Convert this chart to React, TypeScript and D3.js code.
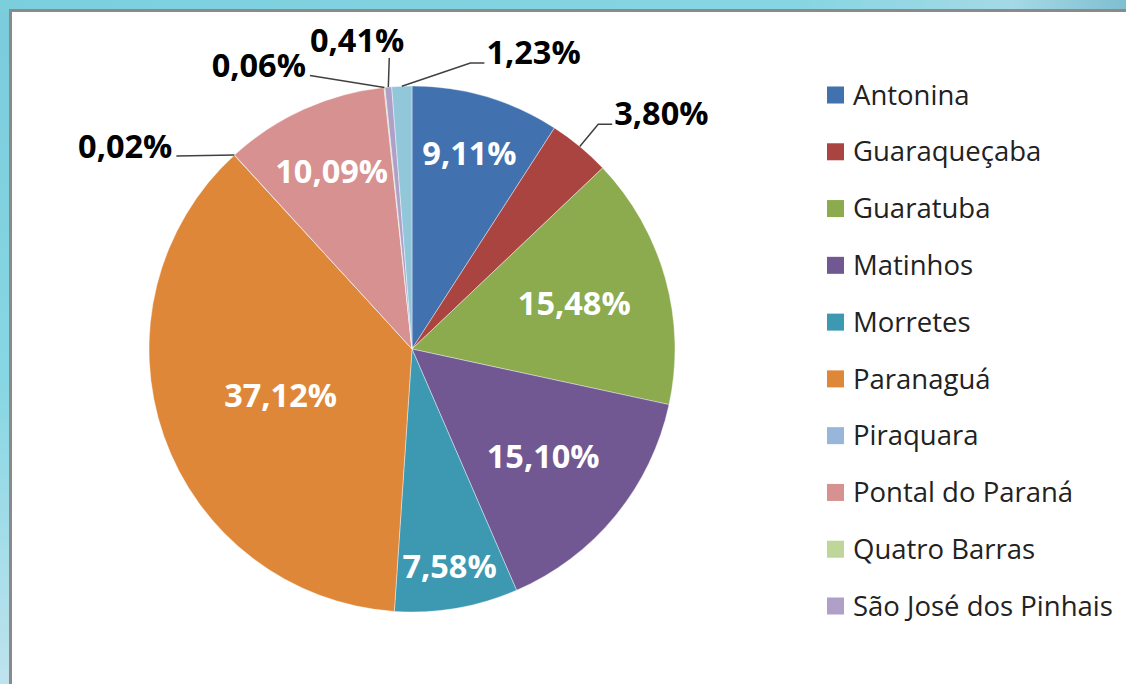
import React from "react";
import * as d3 from "d3";

const categories = [
  "Antonina",
  "Guaraqueçaba",
  "Guaratuba",
  "Matinhos",
  "Morretes",
  "Paranaguá",
  "Piraquara",
  "Pontal do Paraná",
  "Quatro Barras",
  "São José dos Pinhais",
  "Outros",
];
const values = [9.11, 3.8, 15.48, 15.1, 7.58, 37.12, 0.02, 10.09, 0.06, 0.41, 1.23];
const colors = [
  "#4171AE",
  "#AA4441",
  "#8BAB4E",
  "#715892",
  "#3D99B1",
  "#DF8738",
  "#98B5DA",
  "#D69190",
  "#BFD69A",
  "#AFA0C8",
  "#92C7DA",
];
const legendCount = 10;

const W = 1126;
const H = 684;
const cx = 412;
const cy = 349;
const R = 263;
const FONT = "'Open Sans', 'DejaVu Sans', sans-serif";

const fmt = (v: number) => v.toFixed(2).replace(".", ",") + "%";

export default function App() {
  const data = categories.map((c, i) => ({ name: c, value: values[i], color: colors[i] }));
  const pie = d3.pie<any>().value((d) => d.value).sort(null);
  const arcs = pie(data);
  const arcGen = d3.arc<any>().innerRadius(0).outerRadius(R);

  const pt = (a: number, r: number) => [cx + r * Math.sin(a), cy - r * Math.cos(a)];

  // inside labels
  const inside = arcs.filter((a) => a.data.value >= 5).map((a) => {
    const span = a.endAngle - a.startAngle;
    const mid = (a.startAngle + a.endAngle) / 2;
    const ratio = 0.45 + 0.1855 / span;
    const [x, y] = pt(mid, R * ratio);
    return { x, y, text: fmt(a.data.value), key: a.data.name };
  });

  // outside labels with angular relaxation
  const outs = arcs
    .filter((a) => a.data.value < 5)
    .map((a) => {
      const mid = (a.startAngle + a.endAngle) / 2;
      const un = mid < Math.PI / 2 ? mid + 2 * Math.PI : mid;
      return { a, mid, un, adj: un };
    })
    .sort((p, q) => p.adj - q.adj);
  const gap = (16 * Math.PI) / 180;
  for (let it = 0; it < 300; it++) {
    for (let i = 0; i < outs.length - 1; i++) {
      const diff = outs[i + 1].adj - outs[i].adj;
      if (diff < gap) {
        const d = (gap - diff) / 2;
        outs[i].adj -= d;
        outs[i + 1].adj += d;
      }
    }
  }
  const outside = outs.map((o) => {
    const [ex, ey] = pt(o.mid, R);
    let [px, py] = pt(o.adj, R * 1.11);
    const s = Math.sin(o.adj);
    const shifted = Math.abs(o.adj - o.un) > (1 * Math.PI) / 180;
    let path: string;
    let tx: number, ty: number, anchor: string;
    if (Math.abs(s) < 0.15) {
      path = `M${ex},${ey}L${px},${py}`;
      tx = px + 15;
      ty = py - 6;
      anchor = "end";
    } else if (s > 0) {
      path = `M${ex},${ey}L${px},${py}L${px + 14},${py}`;
      tx = px + 16;
      ty = py + 1;
      anchor = "start";
    } else {
      if (!shifted) {
        px = ex - 58;
        py = ey + 1;
      }
      path = `M${ex},${ey}L${px},${py}`;
      tx = px - 4;
      ty = py + 2;
      anchor = "end";
    }
    return { path, tx, ty, anchor, text: fmt(o.a.data.value), key: o.a.data.name };
  });

  const legendItems = data.slice(0, legendCount);
  const ly = d3.scalePoint<string>().domain(legendItems.map((d) => d.name)).range([95, 606]);

  return (
    <svg
      width={W}
      height={H}
      style={{ position: "absolute", left: 0, top: 0, display: "block" }}
    >
      <defs>
        <linearGradient id="bgLeft" x1="0" y1="0" x2="0" y2="1">
          <stop offset="0" stopColor="#7BCCDB" />
          <stop offset="0.55" stopColor="#86D6E3" />
          <stop offset="1" stopColor="#BEE3EE" />
        </linearGradient>
        <linearGradient id="bgTop" x1="0" y1="0" x2="1" y2="0">
          <stop offset="0" stopColor="#7BCFDD" />
          <stop offset="0.7" stopColor="#86D5E2" />
          <stop offset="0.9" stopColor="#A4D9E6" />
          <stop offset="1" stopColor="#7FBFD0" />
        </linearGradient>
      </defs>
      <rect x={0} y={0} width={W} height={H} fill="url(#bgLeft)" />
      <rect x={0} y={0} width={W} height={12} fill="url(#bgTop)" />
      <rect x={10.5} y={10.5} width={W} height={H} fill="#ffffff" stroke="#8a8a8a" strokeWidth={3} />

      <g>
        {arcs.map((a) => (
          <path
            key={a.data.name}
            d={arcGen(a) as string}
            transform={`translate(${cx},${cy})`}
            fill={a.data.color}
            stroke="#ffffff"
            strokeOpacity={0.5}
            strokeWidth={0.8}
          />
        ))}
      </g>

      <g fontFamily={FONT} fontWeight={700} fontSize={32.5}>
        {inside.map((l) => (
          <text key={l.key} x={l.x} y={l.y} dy="0.36em" textAnchor="middle" fill="#ffffff">
            {l.text}
          </text>
        ))}
        {outside.map((l) => (
          <g key={l.key}>
            <path d={l.path} fill="none" stroke="#404040" strokeWidth={1.5} />
            <text x={l.tx} y={l.ty} textAnchor={l.anchor as any} fill="#000000">
              {l.text}
            </text>
          </g>
        ))}
      </g>

      <g fontFamily={FONT} fontSize={27.5} fill="#222222">
        {legendItems.map((d) => (
          <g key={d.name} transform={`translate(827,${ly(d.name)})`}>
            <rect x={0} y={-8.5} width={17} height={17} fill={d.color} />
            <text x={26} y={0} dy="0.35em">
              {d.name}
            </text>
          </g>
        ))}
      </g>
    </svg>
  );
}
